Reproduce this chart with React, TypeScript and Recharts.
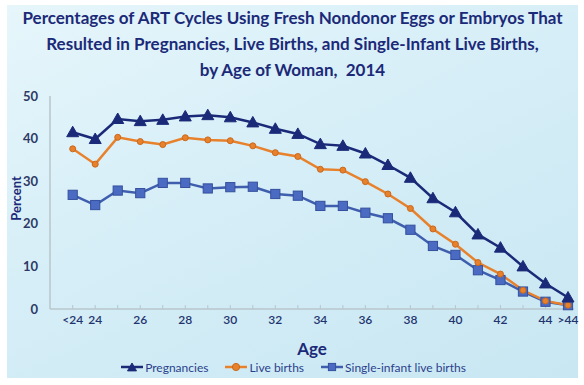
import React from "react"
import { LineChart, Line, XAxis, YAxis, Legend, Label } from "recharts"

const ages = ["<24", "24", "25", "26", "27", "28", "29", "30", "31", "32", "33", "34", "35", "36", "37", "38", "39", "40", "41", "42", "43", "44", ">44"]
const pregnancies = [41.5, 39.9, 44.6, 44.1, 44.4, 45.2, 45.5, 45.0, 43.8, 42.3, 41.1, 38.7, 38.3, 36.5, 33.8, 30.8, 26.0, 22.7, 17.5, 14.4, 10.0, 6.0, 2.7]
const liveBirths = [37.6, 34.0, 40.3, 39.3, 38.6, 40.2, 39.7, 39.5, 38.3, 36.7, 35.8, 32.8, 32.6, 29.9, 27.0, 23.6, 18.8, 15.2, 10.9, 8.2, 4.4, 1.9, 0.9]
const singleInfant = [26.8, 24.4, 27.8, 27.2, 29.6, 29.6, 28.3, 28.6, 28.7, 27.0, 26.6, 24.2, 24.2, 22.6, 21.3, 18.6, 14.8, 12.7, 9.1, 6.8, 4.1, 1.7, 0.9]
const labeledAges = ["<24", "24", "26", "28", "30", "32", "34", "36", "38", "40", "42", "44", ">44"]
const yTicks = [0, 10, 20, 30, 40, 50]

const data = ages.map((age, i) => ({
  age,
  pregnancies: pregnancies[i],
  liveBirths: liveBirths[i],
  singleInfant: singleInfant[i],
}))

const NAVY = "#1b2a78"
const ORANGE = "#e8812c"
const BLUE = "#3f5eae"
const TEXT = "#22336e"
const FONT = "Lato, 'DejaVu Sans Condensed', sans-serif"

function Triangle({ cx, cy, size = 6 }: any) {
  if (cx == null || cy == null) return null
  return (
    <polygon
      points={`${cx},${cy - size} ${cx - size},${cy + size * 0.75} ${cx + size},${cy + size * 0.75}`}
      fill={NAVY}
      stroke={NAVY}
      strokeWidth={1}
    />
  )
}

function Circle({ cx, cy, r = 4.8 }: any) {
  if (cx == null || cy == null) return null
  return <circle cx={cx} cy={cy} r={r} fill={ORANGE} stroke="#c9681c" strokeWidth={1} />
}

function Square({ cx, cy, s = 4.6 }: any) {
  if (cx == null || cy == null) return null
  return <rect x={cx - s} y={cy - s} width={s * 2} height={s * 2} fill="#4b6bc2" stroke="#34509e" strokeWidth={1} />
}

function AgeTick({ x, y, payload }: any) {
  if (!labeledAges.includes(payload.value)) return null
  return (
    <text x={x} y={y} dy={5} textAnchor="middle" fill={TEXT} fontSize={12} fontWeight={600} fontFamily={FONT}>
      {payload.value}
    </text>
  )
}

function LegendMark({ color, shape }: { color: string; shape: string }) {
  return (
    <svg width={24} height={12} style={{ marginRight: 1 }}>
      <line x1={1} y1={6} x2={23} y2={6} stroke={color} strokeWidth={2.5} />
      {shape === "tri" && <Triangle cx={12} cy={6.5} size={4.5} />}
      {shape === "circle" && <Circle cx={12} cy={6} r={3.6} />}
      {shape === "square" && <Square cx={12} cy={6} s={3.6} />}
    </svg>
  )
}

function ChartLegend() {
  const items = [
    { label: "Pregnancies", color: NAVY, shape: "tri" },
    { label: "Live births", color: ORANGE, shape: "circle" },
    { label: "Single-infant live births", color: BLUE, shape: "square" },
  ]
  return (
    <div style={{ display: "flex", justifyContent: "center", gap: 16, height: 20, alignItems: "center", paddingLeft: 12 }}>
      {items.map((it) => (
        <div key={it.label} style={{ display: "flex", alignItems: "center", fontFamily: FONT, fontSize: 12, color: "#2b3f8c" }}>
          <LegendMark color={it.color} shape={it.shape} />
          {it.label}
        </div>
      ))}
    </div>
  )
}

export default function App() {
  return (
    <div style={{ position: "relative", width: 584, height: 385, background: "#fff", overflow: "hidden" }}>
      <style>{"body{margin:0}"}</style>
      <div
        style={{
          position: "absolute",
          left: 7,
          top: 5,
          width: 571,
          height: 373,
          background: "linear-gradient(155deg, #e6f6fb 0%, #d6eef7 45%, #c8e7f2 100%)",
        }}
      />
      <div
        style={{
          position: "absolute",
          left: 7,
          top: 5,
          width: 571,
          textAlign: "center",
          fontFamily: FONT,
          fontWeight: 700,
          fontSize: 17,
          lineHeight: "26px",
          color: NAVY,
          whiteSpace: "nowrap",
        }}
      >
        <div>Percentages of ART Cycles Using Fresh Nondonor Eggs or Embryos That</div>
        <div>Resulted in Pregnancies, Live Births, and Single-Infant Live Births,</div>
        <div>by Age of Woman,&nbsp;&nbsp;2014</div>
      </div>
      <div style={{ position: "absolute", left: 0, top: 0 }}>
        <LineChart width={584} height={385} data={data} margin={{ top: 96, right: 10, bottom: 8, left: 0 }}>
          <XAxis
            dataKey="age"
            interval={0}
            height={48}
            padding={{ left: 22.7, right: 6 }}
            axisLine={{ stroke: "#b9c6cc", strokeWidth: 1.5 }}
            tickLine={{ stroke: "#b9c6cc" }}
            tickSize={-4}
            tickMargin={14}
            tick={<AgeTick />}
          >
            <Label value="Age" position="insideBottom" offset={2} fill={NAVY} fontSize={17} fontWeight={700} fontFamily={FONT} />
          </XAxis>
          <YAxis
            width={50}
            domain={[0, 50]}
            ticks={yTicks}
            axisLine={{ stroke: "#b9c6cc", strokeWidth: 1.5 }}
            tickLine={false}
            tickMargin={6}
            tick={{ fill: "#2d3a66", fontSize: 13, fontWeight: 700, fontFamily: FONT }}
          >
            <Label
              content={({ viewBox }: any) => (
                <text
                  x={viewBox.x + 16}
                  y={viewBox.y + viewBox.height / 2 - 4}
                  transform={`rotate(-90, ${viewBox.x + 16}, ${viewBox.y + viewBox.height / 2 - 4})`}
                  textAnchor="middle"
                  dominantBaseline="central"
                  fill={NAVY}
                  fontSize={13}
                  fontWeight={700}
                  fontFamily={FONT}
                >
                  Percent
                </text>
              )}
            />
          </YAxis>
          <Legend verticalAlign="bottom" content={<ChartLegend />} />
          <Line dataKey="singleInfant" stroke={BLUE} strokeWidth={2.5} dot={<Square />} isAnimationActive={false} />
          <Line dataKey="liveBirths" stroke={ORANGE} strokeWidth={2.5} dot={<Circle />} isAnimationActive={false} />
          <Line dataKey="pregnancies" stroke={NAVY} strokeWidth={2.5} dot={<Triangle />} isAnimationActive={false} />
        </LineChart>
      </div>
    </div>
  )
}
